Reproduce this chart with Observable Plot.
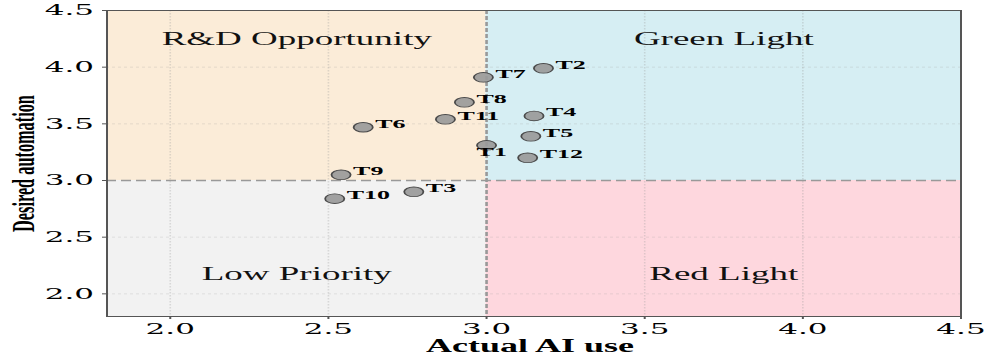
<!DOCTYPE html>
<html>
<head>
<meta charset="utf-8">
<script src="https://cdn.jsdelivr.net/npm/d3@7"></script>
<script src="https://cdn.jsdelivr.net/npm/@observablehq/plot@0.6"></script>
<style>
  html, body { margin: 0; padding: 0; background: #fff; }
  #chart svg { display: block; }
</style>
</head>
<body>
<div id="chart"></div>
<script>
// ---- data ----
const tasks = ["T1", "T2", "T3", "T4", "T5", "T6", "T7", "T8", "T9", "T10", "T11", "T12"];
const actualUse = [3.00, 3.18, 2.77, 3.15, 3.14, 2.61, 2.99, 2.93, 2.54, 2.52, 2.87, 3.13];
const desiredAutomation = [3.31, 3.99, 2.90, 3.57, 3.39, 3.47, 3.91, 3.69, 3.05, 2.84, 3.54, 3.20];

const quadrantNames = ["R&D Opportunity", "Green Light", "Low Priority", "Red Light"];
const quadrantX1 = [1.8, 3.0, 1.8, 3.0];
const quadrantX2 = [3.0, 4.5, 3.0, 4.5];
const quadrantY1 = [3.0, 3.0, 1.8, 1.8];
const quadrantY2 = [4.5, 4.5, 3.0, 3.0];
const quadrantLabelX = [2.4, 3.75, 2.4, 3.75];
const quadrantLabelY = [4.25, 4.25, 2.17, 2.17];
const quadrantColors = ["#fbecd8", "#d6eef3", "#f2f2f2", "#fed7de"];

const xTicks = [2.0, 2.5, 3.0, 3.5, 4.0, 4.5];
const yTicks = [2.0, 2.5, 3.0, 3.5, 4.0, 4.5];
const xLabel = "Actual AI use";
const yLabel = "Desired automation";
const threshold = 3.0;

// ---- tables ----
const points = tasks.map((t, i) => ({task: t, x: actualUse[i], y: desiredAutomation[i]}));
const quadrants = quadrantNames.map((n, i) => ({
  name: n, x1: quadrantX1[i], x2: quadrantX2[i], y1: quadrantY1[i], y2: quadrantY2[i],
  lx: quadrantLabelX[i], ly: quadrantLabelY[i], color: quadrantColors[i]
}));

// rendered at half width, then stretched horizontally (as the reference is)
const SX = 2;
const W = 997, H = 354;
const W0 = W / SX;

const serif = "'Liberation Serif', 'Times New Roman', serif";
const tickFont = "'DejaVu Serif', serif";

const svg = Plot.plot({
  width: W0,
  height: H,
  marginLeft: 53,
  marginRight: W0 - 480,
  marginTop: 10,
  marginBottom: 38,
  x: {domain: [1.8, 4.5]},
  y: {domain: [1.8, 4.5]},
  marks: [
    Plot.rect(quadrants, {x1: "x1", x2: "x2", y1: "y1", y2: "y2", fill: "color"}),
    Plot.ruleX(xTicks.filter(d => d !== threshold && d !== 4.5), {stroke: "#999", strokeOpacity: 0.3, strokeWidth: 0.8, strokeDasharray: "1.5,1.5"}),
    Plot.ruleY(yTicks.filter(d => d !== threshold && d !== 4.5), {stroke: "#999", strokeOpacity: 0.3, strokeWidth: 0.8, strokeDasharray: "1.5,1.5"}),
    Plot.ruleX([threshold], {stroke: "#999", strokeWidth: 1.3, strokeDasharray: "4,2"}),
    Plot.ruleY([threshold], {stroke: "#999", strokeWidth: 1.3, strokeDasharray: "5,2.5"}),
    Plot.text(quadrants, {
      x: "lx", y: "ly", text: "name", textAnchor: "middle", lineAnchor: "middle",
      fontFamily: serif, fontSize: 18.5, fill: "#111"
    }),
    Plot.dot(points, {x: "x", y: "y", r: 4.8, fill: "#9a9a9a", fillOpacity: 0.92, stroke: "#4a4a4a", strokeWidth: 0.9}),
    Plot.text(points.filter(d => d.task !== "T1"), {
      x: "x", y: "y", text: "task", textAnchor: "start", lineAnchor: "middle",
      dx: 6, dy: -3.7, fontFamily: serif, fontWeight: "bold", fontSize: 13, fill: "#000"
    }),
    Plot.text(points.filter(d => d.task === "T1"), {
      x: "x", y: "y", text: "task", textAnchor: "start", lineAnchor: "middle",
      dx: -5, dy: 6.5, fontFamily: serif, fontWeight: "bold", fontSize: 13, fill: "#000"
    }),
    Plot.frame({stroke: "#555", strokeWidth: 1}),
    Plot.axisX(xTicks, {
      tickSize: 3, tickPadding: 3, tickFormat: d3.format(".1f"), label: null,
      fontFamily: tickFont, fontSize: 15.5, stroke: "#555", fill: "#000"
    }),
    Plot.axisY(yTicks, {
      tickSize: 2, tickPadding: 4.5, tickFormat: d3.format(".1f"), label: null,
      fontFamily: tickFont, fontSize: 15.5, stroke: "#555", fill: "#000"
    }),
    Plot.text([xLabel], {
      frameAnchor: "bottom", text: d => d, textAnchor: "middle", lineAnchor: "middle",
      dy: 29.5, dx: -2, fontFamily: serif, fontWeight: "bold", fontSize: 18, fill: "#000"
    }),
    Plot.text([yLabel], {
      frameAnchor: "left", text: d => d, textAnchor: "middle", lineAnchor: "middle",
      rotate: -90, dx: -41.7, fontFamily: serif, fontWeight: "bold", fontSize: 16.3, fill: "#000"
    })
  ]
});

svg.setAttribute("width", W);
svg.setAttribute("height", H);
svg.setAttribute("viewBox", `0 0 ${W0} ${H}`);
svg.setAttribute("preserveAspectRatio", "none");
svg.style.width = W + "px";
svg.style.height = H + "px";
svg.style.maxWidth = "none";
svg.style.overflow = "visible";
document.getElementById("chart").appendChild(svg);
</script>
</body>
</html>
